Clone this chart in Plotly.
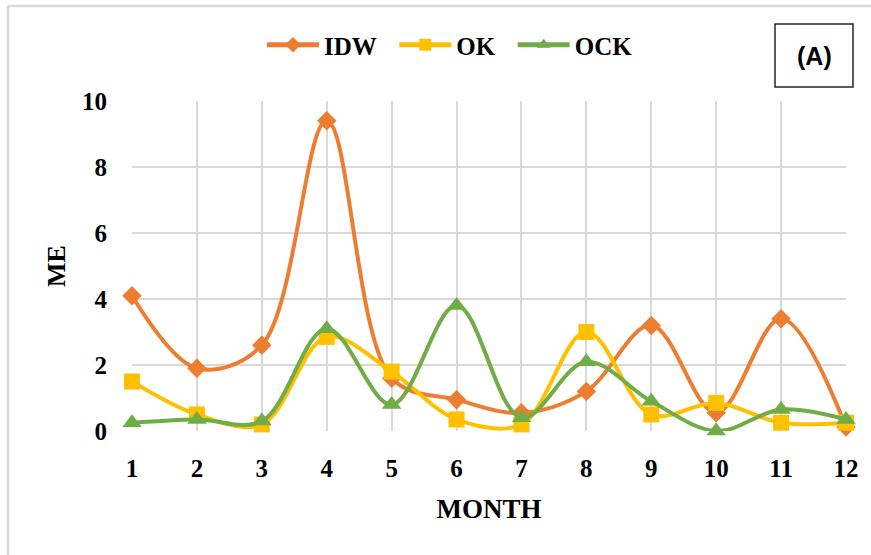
import plotly.graph_objects as go

months = list(range(1, 13))
idw = [4.1, 1.9, 2.6, 9.4, 1.6, 0.95, 0.55, 1.2, 3.2, 0.55, 3.4, 0.12]
ok = [1.5, 0.5, 0.2, 2.85, 1.8, 0.35, 0.2, 3.0, 0.5, 0.85, 0.25, 0.25]
ock = [0.25, 0.35, 0.3, 3.1, 0.8, 3.8, 0.4, 2.1, 0.9, 0.0, 0.65, 0.35]
yticks = [0, 2, 4, 6, 8, 10]

series = [
    ("IDW", idw, "#ED7D31", "diamond", 15, "&nbsp;&nbsp;"),
    ("OK", ok, "#FFC000", "square", 16, "&nbsp;&nbsp;"),
    ("OCK", ock, "#70AD47", "triangle-up", 17, ""),
]

fig = go.Figure()
for name, vals, color, sym, size, pad in series:
    fig.add_trace(go.Scatter(
        x=months, y=vals, name=f"<b>{name}</b>{pad}", mode="lines+markers",
        line=dict(color=color, width=4, shape="spline", smoothing=1),
        marker=dict(symbol=sym, size=size, color=color),
        cliponaxis=False,
    ))

serif = "Liberation Serif"
L, R, T, B = 132, 25, 101, 124
W, H = 871, 555
pw, ph = W - L - R, H - T - B

def px(x):
    return (x - L) / pw

def py(y):
    return (H - B - y) / ph

fig.update_layout(
    width=W, height=H,
    margin=dict(l=L, r=R, t=T, b=B),
    plot_bgcolor="white", paper_bgcolor="white",
    font=dict(family=serif, color="black"),
    showlegend=True,
    legend=dict(
        orientation="h", x=px(450), xanchor="center", y=py(45), yanchor="middle",
        font=dict(family=serif, size=25, color="black"),
        itemsizing="constant", itemwidth=52, tracegroupgap=0,
    ),
    xaxis=dict(
        range=[1, 12], tickmode="array", tickvals=months,
        ticktext=[f"<b>{m}</b>" for m in months],
        tickfont=dict(family=serif, size=25, color="black"),
        showgrid=True, gridcolor="#D9D9D9", gridwidth=2,
        zeroline=False, showline=False, ticks="outside", ticklen=15, tickcolor="rgba(0,0,0,0)",
        title=dict(text="<b>MONTH</b>", font=dict(family=serif, size=27, color="black"), standoff=18),
    ),
    yaxis=dict(
        range=[0, 10], tickmode="array", tickvals=yticks,
        ticktext=[f"<b>{v}</b>" for v in yticks],
        tickfont=dict(family=serif, size=25, color="black"),
        showgrid=True, gridcolor="#D9D9D9", gridwidth=2,
        zeroline=False, showline=False, ticks="outside", ticklen=19, tickcolor="rgba(0,0,0,0)",
        title=dict(text="<b>ME</b>", font=dict(family=serif, size=26, color="black"), standoff=8),
    ),
    shapes=[
        dict(type="line", xref="paper", yref="paper", x0=px(8), x1=px(871), y0=py(6), y1=py(6),
             line=dict(color="#D9D9D9", width=2.5)),
        dict(type="line", xref="paper", yref="paper", x0=px(8), x1=px(8), y0=py(6), y1=py(555),
             line=dict(color="#D9D9D9", width=2.5)),
        dict(type="rect", xref="paper", yref="paper", x0=px(775), x1=px(853), y0=py(87), y1=py(24),
             line=dict(color="#262626", width=1.5), fillcolor="white"),
    ],
    annotations=[
        dict(text="<b>(A)</b>", xref="paper", yref="paper", x=px(814), y=py(56),
             xanchor="center", yanchor="middle", showarrow=False,
             font=dict(family="Liberation Sans", size=25, color="black")),
    ],
)

fig.write_html("out.html")
